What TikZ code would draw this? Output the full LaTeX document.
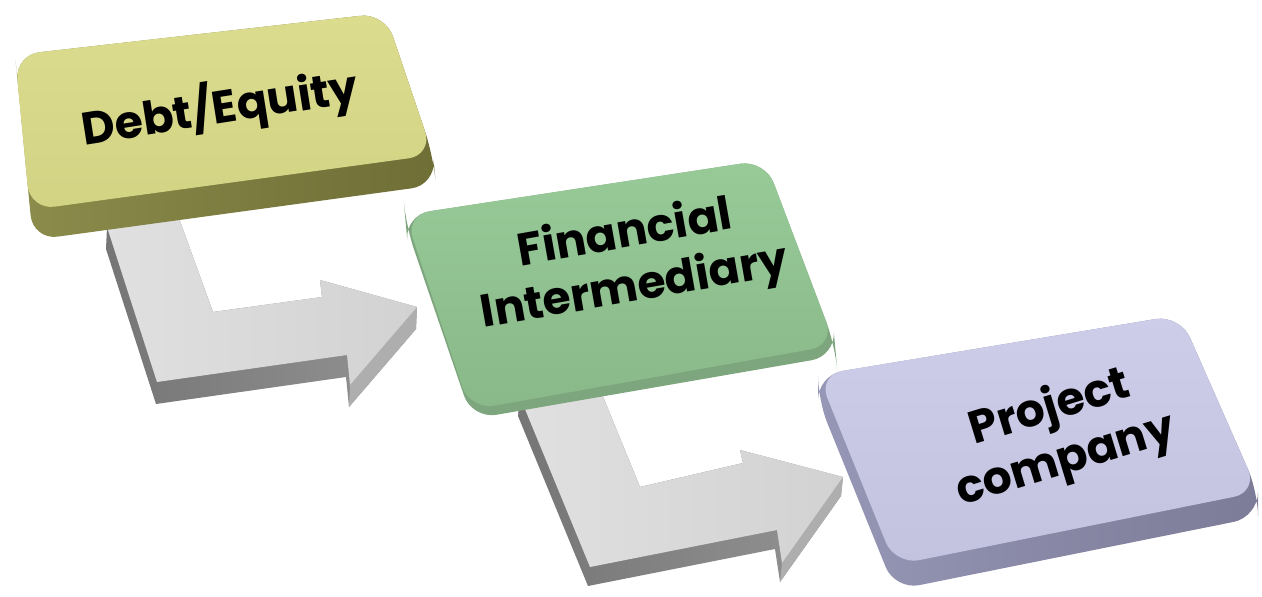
\documentclass[tikz,border=0pt]{standalone}
\usepackage{fontspec}
\setmainfont{Poppins}
\definecolor{debttop}{HTML}{DCDC8F}
\definecolor{debtbot}{HTML}{D3D384}
\definecolor{debtside}{HTML}{8C8C4C}
\definecolor{debtdark}{HTML}{6E6E36}
\definecolor{fintop}{HTML}{98CA98}
\definecolor{finbot}{HTML}{89B889}
\definecolor{finside}{HTML}{7EA67E}
\definecolor{projtop}{HTML}{CDCDEA}
\definecolor{projbot}{HTML}{C3C3E0}
\definecolor{projside}{HTML}{9696B6}
\definecolor{projdark}{HTML}{7C7C98}
\definecolor{arrowlt}{HTML}{E0E0E0}
\definecolor{arrowmd}{HTML}{D2D2D2}
\definecolor{arrowdk}{HTML}{939393}

\begin{document}
\begin{tikzpicture}[x=0.02cm,y=-0.02cm,
		lbl/.style={font=\fontsize{26}{31}\selectfont\bfseries, align=center, text=black},
		slab/.style={rounded corners=14pt},
		arrowtop/.style={left color=arrowlt, right color=arrowmd},
		arrowside/.style={left color=arrowdk!80!black, right color=arrowdk},
		arrowhead/.style={fill=arrowdk!75!white}]
	\useasboundingbox (0,0) rectangle (1262,596);
	% first bent arrow
	\path[arrowside] (417,307) -- (416,329) -- (349,407) -- (346,377) -- (156,404) -- (106,249) -- (107,227) -- (177,213) -- (213,312) -- (322,297) -- (320,280) -- cycle;
	\path[arrowhead] (417,307) -- (350,385) -- (349,407) -- (416,329) -- cycle;
	\shade[arrowtop] (107,227) -- (177,213) -- (213,312) -- (322,297) -- (320,280) -- (417,307) -- (350,385) -- (347,355) -- (157,382) -- cycle;
	% debt/equity block
	\path[slab, left color=debtside, right color=debtdark] (15,55) -- (385,13) -- (433,155) -- (436,185) -- (33,240) -- (18,85) -- cycle;
	\shade[slab, top color=debttop, bottom color=debtbot] (15,55) -- (385,13) -- (433,155) -- (30,210) -- cycle;
	% second bent arrow
	\path[arrowside] (843,477) -- (841,496) -- (780,582) -- (775,549) -- (588,586) -- (518,416) -- (520,397) -- (597,382) -- (640,487) -- (743,463) -- (740,450) -- cycle;
	\path[arrowhead] (843,477) -- (782,563) -- (780,582) -- (841,496) -- cycle;
	\shade[arrowtop] (520,397) -- (597,382) -- (640,487) -- (743,463) -- (740,450) -- (843,477) -- (782,563) -- (777,530) -- (590,567) -- cycle;
	% intermediary block
	\path[slab, fill=finside] (405,215) -- (765,160) -- (835,345) -- (836,356) -- (472,419) -- (406,226) -- cycle;
	\shade[slab, top color=fintop, bottom color=finbot] (405,215) -- (765,160) -- (835,345) -- (470,410) -- cycle;
	% project company block
	\path[slab, left color=projside, right color=projdark] (818,375) -- (1180,315) -- (1258,492) -- (1258,517) -- (895,590) -- (818,400) -- cycle;
	\shade[slab, top color=projtop, bottom color=projbot] (818,375) -- (1180,315) -- (1258,492) -- (895,565) -- cycle;
	% labels
	\node[lbl, rotate=9] (debt) at (220,108) {Debt/Equity};
	\node[lbl, rotate=10] (fin) at (630,262) {Financial\\Intermediary};
	\node[lbl, rotate=17] (proj) at (1058,435) {Project\\company};
\end{tikzpicture}
\end{document}
